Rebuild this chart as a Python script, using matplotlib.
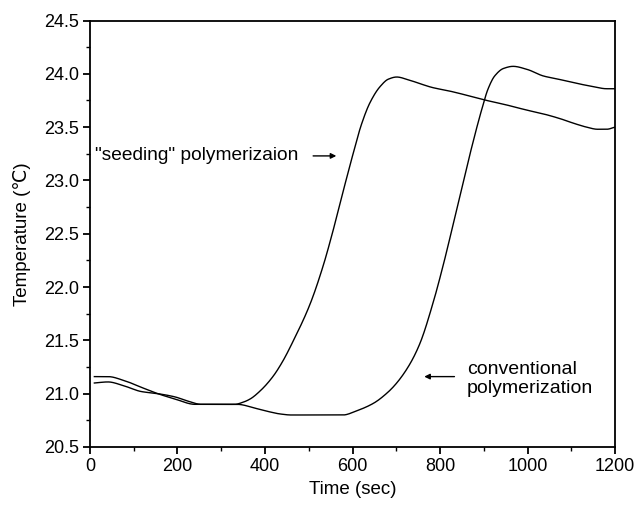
import matplotlib
matplotlib.use("Agg")
import matplotlib.pyplot as plt
from matplotlib.ticker import MultipleLocator
import numpy as np

plt.rcParams['font.family'] = ['Liberation Sans', 'DejaVu Sans']

# seeding polymerization
seed_t = [10, 41, 80, 117, 155, 194, 240, 270, 331, 350, 366, 390, 418, 440, 464, 503,
          533, 553, 580, 602, 620, 640, 663, 682, 701, 730, 784, 820, 860, 907, 950,
          998, 1040, 1074, 1110, 1135, 1160, 1181, 1200]
seed_T = [21.16, 21.16, 21.12, 21.06, 21.00, 20.95, 20.90, 20.90, 20.90, 20.92, 20.95,
          21.03, 21.16, 21.30, 21.49, 21.84, 22.20, 22.49, 22.92, 23.26, 23.52, 23.73,
          23.88, 23.95, 23.97, 23.94, 23.87, 23.84, 23.80, 23.75, 23.71, 23.66, 23.62,
          23.58, 23.53, 23.50, 23.48, 23.48, 23.50]

# conventional polymerization
conv_t = [10, 41, 80, 117, 155, 194, 224, 254, 300, 336, 381, 410, 434, 460, 500, 578,
          610, 648, 680, 701, 730, 754, 784, 807, 840, 873, 895, 910, 925, 945, 967,
          1000, 1036, 1070, 1113, 1150, 1181, 1200]
conv_T = [21.10, 21.11, 21.07, 21.02, 21.00, 20.97, 20.93, 20.90, 20.90, 20.90, 20.86,
          20.83, 20.81, 20.80, 20.80, 20.80, 20.84, 20.91, 21.01, 21.10, 21.27, 21.47,
          21.85, 22.20, 22.76, 23.32, 23.66, 23.86, 23.98, 24.05, 24.07, 24.04, 23.98,
          23.95, 23.91, 23.88, 23.86, 23.86]


def smooth(t, v, n=800):
    t = np.asarray(t, float)
    v = np.asarray(v, float)
    ts = np.linspace(t[0], t[-1], n)
    h = np.diff(t)
    d = np.diff(v) / h
    m = np.zeros_like(v)
    m[0], m[-1] = d[0], d[-1]
    for i in range(1, len(v) - 1):
        if d[i - 1] * d[i] <= 0:
            m[i] = 0
        else:
            w1 = 2 * h[i] + h[i - 1]
            w2 = h[i] + 2 * h[i - 1]
            m[i] = (w1 + w2) / (w1 / d[i - 1] + w2 / d[i])
    idx = np.clip(np.searchsorted(t, ts) - 1, 0, len(t) - 2)
    hh = h[idx]
    s = (ts - t[idx]) / hh
    h00 = 2 * s**3 - 3 * s**2 + 1
    h10 = s**3 - 2 * s**2 + s
    h01 = -2 * s**3 + 3 * s**2
    h11 = s**3 - s**2
    vs = h00 * v[idx] + h10 * hh * m[idx] + h01 * v[idx + 1] + h11 * hh * m[idx + 1]
    return ts, vs


fig = plt.figure(figsize=(6.36, 5.05), dpi=100)
ax = fig.add_axes([0.1415, 0.1149, 0.8255, 0.8445])

for t, v in [(seed_t, seed_T), (conv_t, conv_T)]:
    ts, vs = smooth(t, v)
    ax.plot(ts, vs, color='black', lw=1.0)

ax.set_xlim(0, 1200)
ax.set_ylim(20.5, 24.5)
ax.xaxis.set_major_locator(MultipleLocator(200))
ax.xaxis.set_minor_locator(MultipleLocator(100))
ax.yaxis.set_major_locator(MultipleLocator(0.5))
ax.yaxis.set_minor_locator(MultipleLocator(0.25))
ax.yaxis.set_major_formatter(plt.FormatStrFormatter('%.1f'))
ax.tick_params(which='major', direction='out', length=5, width=1.3, labelsize=13,
               top=False, right=False, pad=3)
ax.tick_params(which='minor', direction='out', length=3, width=1.0, top=False, right=False)
for sp in ax.spines.values():
    sp.set_linewidth(1.3)

ax.set_xlabel('Time (sec)', fontsize=13.5, labelpad=4)
ax.set_ylabel('Temperature (℃)', fontsize=13.5, labelpad=9)

ax.text(12, 23.23, '"seeding" polymerizaion', fontsize=13.8, va='center', ha='left')
ax.annotate('', xy=(563, 23.23), xytext=(510, 23.23),
            arrowprops=dict(arrowstyle='-|>', color='black', lw=1.0,
                            mutation_scale=8, shrinkA=0, shrinkB=0))
ax.text(862, 21.14, 'conventional\npolymerization', fontsize=14, va='center',
        ha='left', linespacing=1.15)
ax.annotate('', xy=(764, 21.16), xytext=(833, 21.16),
            arrowprops=dict(arrowstyle='-|>', color='black', lw=1.0,
                            mutation_scale=8, shrinkA=0, shrinkB=0))

fig.savefig('out.png', dpi=100)
